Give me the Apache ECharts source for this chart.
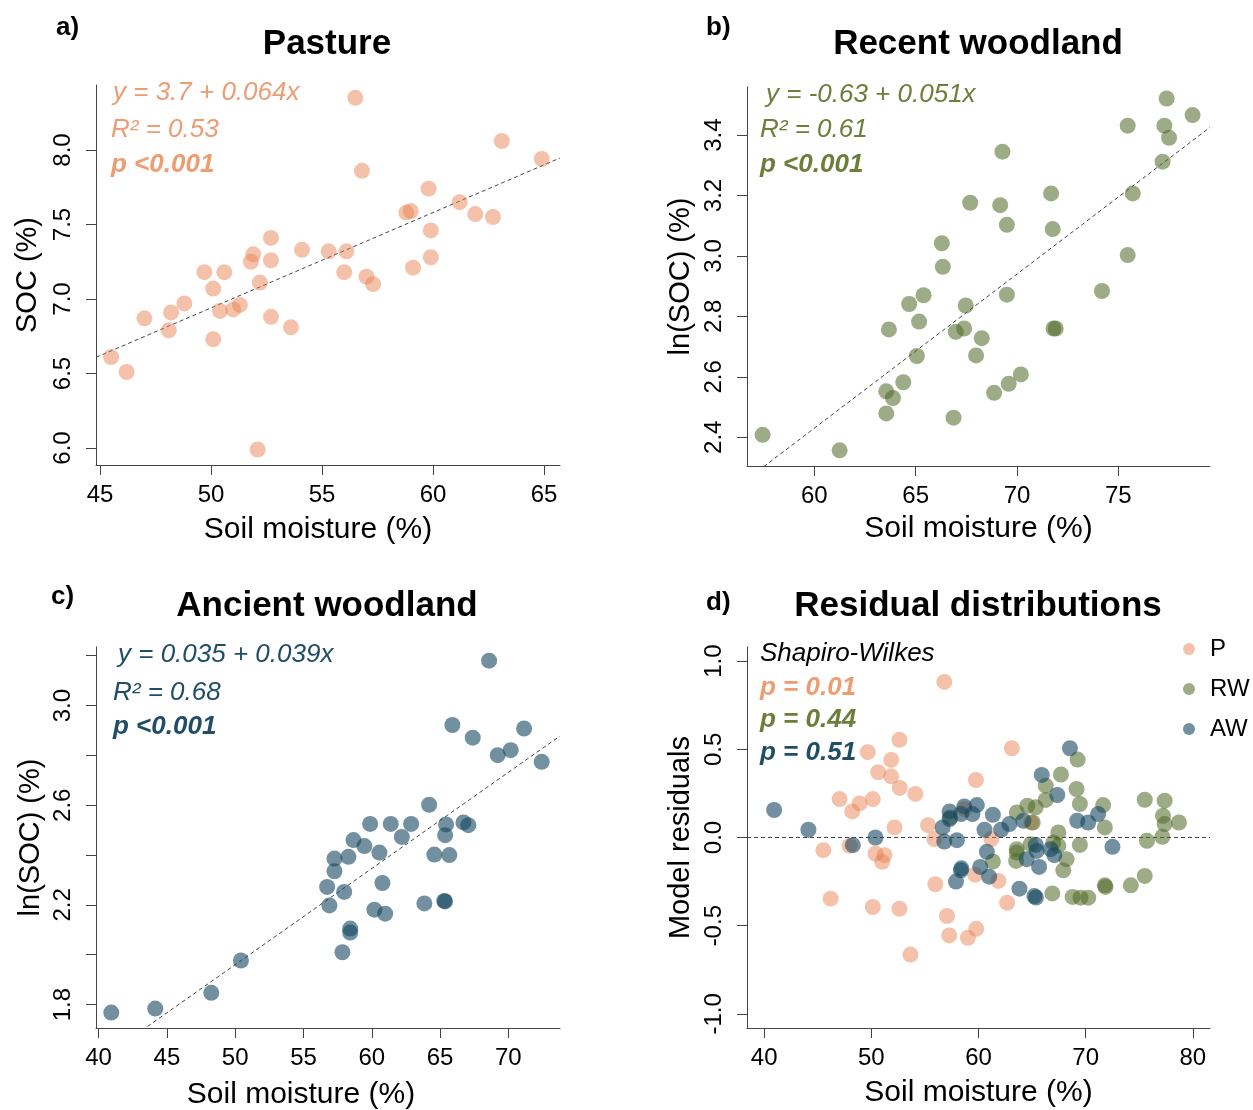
<!DOCTYPE html>
<html>
<head>
<meta charset="utf-8">
<script src="https://cdn.jsdelivr.net/npm/echarts@6/dist/echarts.min.js"></script>
<style>
  html, body { margin: 0; padding: 0; background: #fff; }
  #main { width: 1253px; height: 1110px; }
</style>
</head>
<body>
<div id="main"></div>
<script>
// a) Pasture
var paMoist = [56.5, 63.1, 64.9, 56.8, 59.8, 61.2, 58.8, 59.0, 61.9, 62.7, 59.9, 59.9, 59.1, 52.7, 52.7, 54.1, 55.3, 56.1, 56.0, 57.0,
  57.3, 51.9, 51.8, 52.2, 49.7, 50.6, 50.1, 48.8, 48.2, 47.0, 48.1, 50.4, 51.0, 51.3, 52.7, 53.6, 50.1, 45.5, 46.2, 52.1];
var paSoc = [8.35, 8.06, 7.94, 7.86, 7.74, 7.65, 7.58, 7.59, 7.57, 7.55, 7.46, 7.28, 7.21, 7.41, 7.26, 7.33, 7.32, 7.32, 7.18, 7.15,
  7.10, 7.30, 7.25, 7.11, 7.18, 7.18, 7.07, 6.97, 6.91, 6.87, 6.79, 6.92, 6.93, 6.96, 6.88, 6.81, 6.73, 6.61, 6.51, 5.99];

// b) Recent woodland
var rwMoist = [77.38, 78.66, 75.46, 77.27, 77.50, 77.18, 69.28, 75.71, 71.68, 67.69, 69.17, 69.50, 71.76, 66.29, 75.46, 66.34, 74.19, 69.50, 65.39, 64.68,
  67.47, 65.17, 63.68, 66.98, 67.39, 71.80, 71.91, 68.26, 65.06, 67.98, 70.19, 69.59, 68.87, 64.39, 63.55, 63.88, 63.55, 66.87, 57.45, 61.25];
var rwLnSoc = [3.521, 3.466, 3.431, 3.431, 3.391, 3.312, 3.345, 3.207, 3.207, 3.176, 3.168, 3.103, 3.089, 3.042, 3.003, 2.964, 2.884, 2.872, 2.870, 2.841,
  2.836, 2.783, 2.757, 2.749, 2.760, 2.760, 2.760, 2.728, 2.669, 2.671, 2.608, 2.577, 2.547, 2.582, 2.552, 2.530, 2.479, 2.465, 2.408, 2.357];

// c) Ancient woodland
var awMoist = [68.59, 65.90, 71.15, 67.39, 70.17, 69.22, 72.44, 64.20, 65.44, 66.71, 67.07, 65.37, 59.88, 61.39, 62.88, 62.20, 58.66, 59.46, 60.56, 64.58,
  65.68, 57.27, 58.29, 57.27, 60.78, 56.73, 57.98, 56.90, 63.85, 65.30, 65.37, 60.19, 60.98, 58.42, 58.42, 57.85, 50.42, 48.25, 44.15, 40.93];
var awLnSoc = [3.180, 2.922, 2.908, 2.871, 2.821, 2.801, 2.774, 2.602, 2.523, 2.531, 2.520, 2.480, 2.525, 2.525, 2.525, 2.473, 2.460, 2.436, 2.410, 2.402,
  2.400, 2.386, 2.393, 2.335, 2.288, 2.272, 2.252, 2.198, 2.206, 2.216, 2.214, 2.181, 2.165, 2.105, 2.089, 2.010, 1.977, 1.847, 1.784, 1.768];

// d) residuals
var resPMoist = [56.81, 52.62, 49.67, 51.85, 50.64, 51.85, 52.65, 54.11, 47.04, 48.90, 48.22, 50.14, 52.16, 55.29, 55.88, 45.52, 47.97, 50.39, 51.23,
  51.01, 55.97, 46.20, 50.14, 52.62, 57.06, 57.27, 59.01, 59.79, 53.65, 59.76, 59.69, 63.11, 62.67, 61.86, 61.21, 64.92, 58.70];
var resP = [0.882, 0.554, 0.484, 0.440, 0.370, 0.347, 0.281, 0.247, 0.218, 0.193, 0.148, 0.218, 0.057, 0.070, -0.009, -0.072, -0.047, -0.091, -0.100,
  -0.138, -0.265, -0.347, -0.394, -0.404, -0.445, -0.555, -0.569, -0.518, -0.664, 0.326, -0.211, 0.506, -0.370, -0.246, -0.009, 0.085, 0.160];
var resRWMoist = [69.25, 67.69, 66.27, 69.15, 66.27, 69.46, 71.63, 64.56, 65.34, 63.57, 75.51, 77.37, 77.21, 78.70, 77.37, 71.79, 77.15, 75.72, 69.46, 67.45,
  66.98, 65.06, 63.57, 64.87, 68.22, 61.34, 63.51, 67.91, 75.51, 74.21, 71.79, 71.85, 66.89, 68.78, 69.52, 70.24, 57.37, 63.57, 67.45];
var resRW = [0.442, 0.357, 0.294, 0.275, 0.213, 0.190, 0.184, 0.180, 0.171, 0.142, 0.214, 0.209, 0.123, 0.085, 0.076, 0.057, 0.004, -0.019, -0.042, 0.029,
  -0.028, 0.085, -0.066, -0.038, -0.123, -0.136, -0.133, -0.186, -0.218, -0.271, -0.271, -0.280, -0.317, -0.337, -0.341, -0.341, 0.114, -0.085, -0.047];
var resAWMoist = [40.93, 44.13, 48.28, 50.39, 68.53, 65.90, 67.35, 71.16, 69.21, 70.23, 72.50, 57.30, 58.67, 59.85, 59.44, 58.36, 57.30, 56.65, 61.34, 60.56,
  62.11, 62.88, 64.19, 56.81, 57.99, 60.78, 65.34, 65.43, 66.73, 67.07, 64.50, 65.65, 58.36, 58.40, 60.16, 60.99, 57.90, 63.82, 65.21, 65.36];
var resAW = [0.156, 0.044, -0.043, 0.000, 0.506, 0.355, 0.241, 0.133, 0.095, 0.085, -0.053, 0.148, 0.176, 0.184, 0.133, 0.133, 0.105, 0.057, 0.129, 0.044,
  0.044, 0.076, 0.095, -0.023, -0.015, -0.081, -0.042, -0.076, -0.066, -0.100, -0.123, -0.167, -0.186, -0.175, -0.167, -0.222, -0.250, -0.290, -0.332, -0.340];

// fitted lines (intercept, slope) for a, b, c
var fitIntercept = [3.74, -0.63, 0.03];
var fitSlope = [0.064, 0.051, 0.0386];

// tick values
var xTicksA = [45, 50, 55, 60, 65];
var yTicksA = [6.0, 6.5, 7.0, 7.5, 8.0];
var xTicksB = [60, 65, 70, 75];
var yTicksB = [2.4, 2.6, 2.8, 3.0, 3.2, 3.4];
var xTicksC = [40, 45, 50, 55, 60, 65, 70];
var yTicksC = [1.8, 2.0, 2.2, 2.4, 2.6, 2.8, 3.0, 3.2];
var yLabelsC = [1.8, 2.2, 2.6, 3.0];
var xTicksD = [40, 50, 60, 70, 80];
var yTicksD = [-1.0, -0.5, 0.0, 0.5, 1.0];

// axis limits (R style 4% padding)
var limA = { x: [44.82, 65.72], y: [5.886, 8.436] };
var limB = { x: [56.68, 79.52], y: [2.305, 3.559] };
var limC = { x: [39.81, 73.78], y: [1.706, 3.235] };
var limD = { x: [38.4, 81.6], y: [-1.08, 1.08] };

var FONT = '"Liberation Sans", Arial, Helvetica, sans-serif';
var cP = 'rgba(233,127,77,0.6)', cRW = 'rgba(80,105,40,0.7)', cAW = 'rgba(20,70,95,0.75)';
var tP = '#EE9C72', tRW = '#6B7F3A', tAW = '#1F4E66';

function zip(xs, ys) { return xs.map(function (x, i) { return [x, ys[i]]; }); }

// shift: moves the axis name left (px) like the original layout
function xAxis(gi, lim, ticks, gap, shift) {
  return {
    gridIndex: gi, type: 'value', min: lim[0], max: lim[1],
    name: 'Soil moisture (%)', nameLocation: 'middle', nameGap: gap,
    nameTextStyle: { fontSize: 30, color: '#000', fontFamily: FONT, padding: [0, 2 * shift, 0, 0] },
    axisLine: { show: true, onZero: false, lineStyle: { color: '#444', width: 1 } },
    axisTick: { show: true, length: 10, customValues: ticks, lineStyle: { color: '#444' } },
    axisLabel: { customValues: ticks, fontSize: 24, color: '#000', fontFamily: FONT, margin: 18 },
    splitLine: { show: false }
  };
}
function yAxis(gi, lim, ticks, labels, name, gap) {
  return {
    gridIndex: gi, type: 'value', min: lim[0], max: lim[1],
    name: name, nameLocation: 'middle', nameGap: gap,
    nameTextStyle: { fontSize: 29, color: '#000', fontFamily: FONT },
    axisLine: { show: true, onZero: false, lineStyle: { color: '#444', width: 1 } },
    axisTick: { show: true, length: 10, customValues: ticks, lineStyle: { color: '#444' } },
    axisLabel: {
      customValues: labels, rotate: 90, fontSize: 24, color: '#000', fontFamily: FONT, margin: 21,
      formatter: function (v) { return (+v).toFixed(1); }
    },
    splitLine: { show: false }
  };
}
function scatter(name, gi, data, color) {
  return {
    name: name, type: 'scatter', xAxisIndex: gi, yAxisIndex: gi, data: data,
    symbolSize: 16, itemStyle: { color: color }, silent: true
  };
}
function fitLine(gi, lim, a, b) {
  return {
    type: 'line', xAxisIndex: gi, yAxisIndex: gi, symbol: 'none', silent: true, clip: true,
    data: [[lim[0], a + b * lim[0]], [lim[1], a + b * lim[1]]],
    lineStyle: { color: '#444', width: 1, type: [4, 3] }, z: 1
  };
}
function txt(x, y, s, font, color, align) {
  return {
    type: 'text', x: x, y: y, silent: true,
    style: { text: s, font: font, fill: color, align: align || 'left', textAlign: align || 'left',
      verticalAlign: 'middle', textVerticalAlign: 'middle' }
  };
}

var titleFont = 'bold 35px ' + FONT;
var letterFont = 'bold 26px ' + FONT;
var statFont = 'italic 26px ' + FONT;
var statBold = 'italic bold 26px ' + FONT;

var option = {
  animation: false,
  backgroundColor: '#fff',
  grid: [
    { left: 96, top: 85, width: 464, height: 380, outerBoundsMode: 'none' },
    { left: 747, top: 87, width: 463, height: 379, outerBoundsMode: 'none' },
    { left: 96, top: 647, width: 464, height: 381, outerBoundsMode: 'none' },
    { left: 747, top: 647, width: 463, height: 381, outerBoundsMode: 'none' }
  ],
  xAxis: [
    xAxis(0, limA.x, xTicksA, 50, 10),
    xAxis(1, limB.x, xTicksB, 48, 0),
    xAxis(2, limC.x, xTicksC, 52, 27),
    xAxis(3, limD.x, xTicksD, 50, 0)
  ],
  yAxis: [
    yAxis(0, limA.y, yTicksA, yTicksA, 'SOC (%)', 54),
    yAxis(1, limB.y, yTicksB, yTicksB, 'ln(SOC) (%)', 52),
    yAxis(2, limC.y, yTicksC, yLabelsC, 'ln(SOC) (%)', 51),
    yAxis(3, limD.y, yTicksD, yTicksD, 'Model residuals', 52)
  ],
  legend: {
    data: ['P', 'RW', 'AW'], orient: 'vertical', left: 1178, top: 632,
    itemWidth: 32, itemHeight: 12, itemGap: 16, icon: 'circle', symbolKeepAspect: true,
    textStyle: { fontSize: 24, color: '#000', fontFamily: FONT, lineHeight: 24 }
  },
  series: [
    fitLine(0, limA.x, fitIntercept[0], fitSlope[0]),
    scatter('Pasture', 0, zip(paMoist, paSoc), cP),
    fitLine(1, limB.x, fitIntercept[1], fitSlope[1]),
    scatter('Recent woodland', 1, zip(rwMoist, rwLnSoc), cRW),
    fitLine(2, limC.x, fitIntercept[2], fitSlope[2]),
    scatter('Ancient woodland', 2, zip(awMoist, awLnSoc), cAW),
    fitLine(3, limD.x, 0, 0),
    scatter('P', 3, zip(resPMoist, resP), cP),
    scatter('RW', 3, zip(resRWMoist, resRW), cRW),
    scatter('AW', 3, zip(resAWMoist, resAW), cAW)
  ],
  graphic: [
    txt(56, 28, 'a)', letterFont, '#000'),
    txt(706, 28, 'b)', letterFont, '#000'),
    txt(51, 597, 'c)', letterFont, '#000'),
    txt(706, 603, 'd)', letterFont, '#000'),
    txt(327, 44, 'Pasture', titleFont, '#000', 'center'),
    txt(978, 44, 'Recent woodland', titleFont, '#000', 'center'),
    txt(327, 606, 'Ancient woodland', titleFont, '#000', 'center'),
    txt(978, 606, 'Residual distributions', titleFont, '#000', 'center'),
    txt(113, 93, 'y = 3.7 + 0.064x', statFont, tP),
    txt(111, 130, 'R\u00b2 = 0.53', statFont, tP),
    txt(111, 165, 'p <0.001', statBold, tP),
    txt(766, 95, 'y = -0.63 + 0.051x', statFont, tRW),
    txt(760, 130, 'R\u00b2 = 0.61', statFont, tRW),
    txt(760, 165, 'p <0.001', statBold, tRW),
    txt(118, 655, 'y = 0.035 + 0.039x', statFont, tAW),
    txt(113, 693, 'R\u00b2 = 0.68', statFont, tAW),
    txt(113, 727, 'p <0.001', statBold, tAW),
    txt(760, 654, 'Shapiro-Wilkes', statFont, '#000'),
    txt(760, 688, 'p = 0.01', statBold, tP),
    txt(760, 720, 'p = 0.44', statBold, tRW),
    txt(760, 753, 'p = 0.51', statBold, tAW)
  ]
};

var chart = echarts.init(document.getElementById('main'), null, { renderer: 'canvas' });
chart.setOption(option);
</script>
</body>
</html>
